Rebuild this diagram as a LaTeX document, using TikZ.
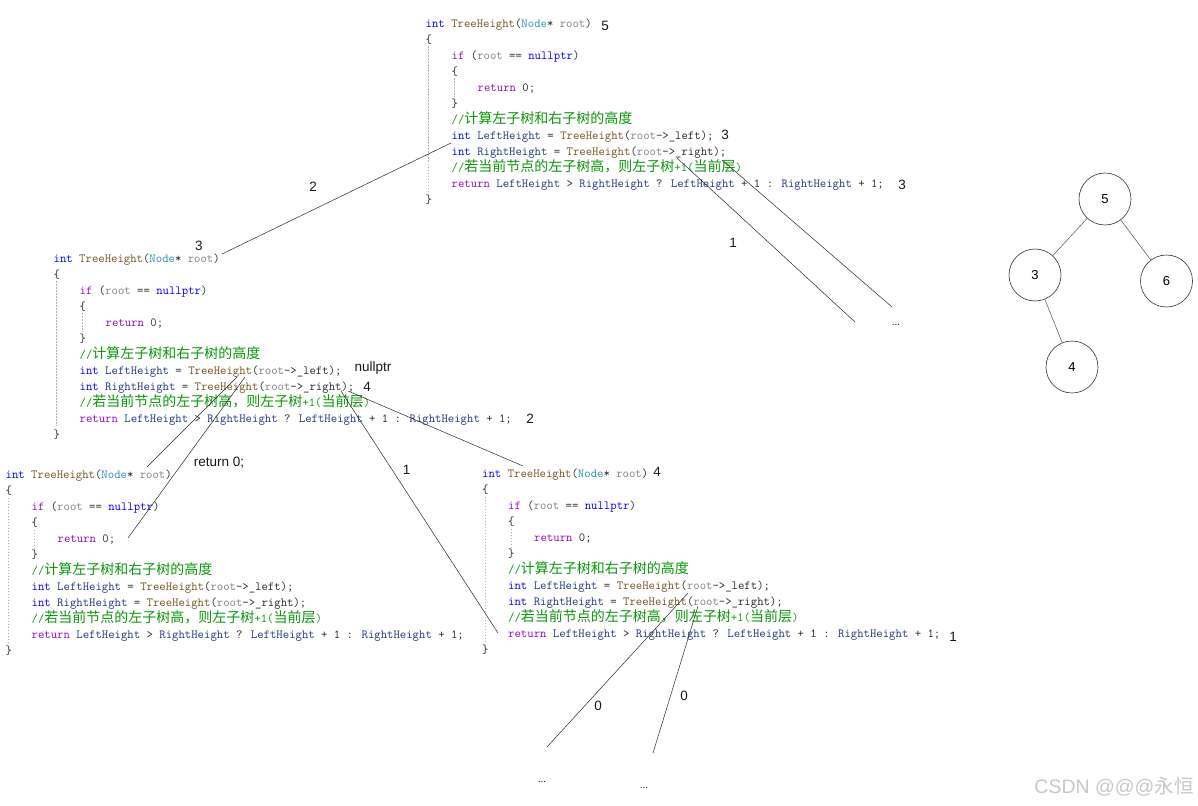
\documentclass[tikz,border=0pt]{standalone}
\usepackage{fontspec}
\setsansfont{Liberation Sans}
\newfontfamily\cjk{Noto Sans CJK SC}
\usetikzlibrary{calc}

\definecolor{kwblue}{HTML}{0000FF}
\definecolor{ctlpurple}{HTML}{8F08C4}
\definecolor{fnbrown}{HTML}{74531F}
\definecolor{typeteal}{HTML}{2B91AF}
\definecolor{pargray}{HTML}{808080}
\definecolor{locnavy}{HTML}{1F377F}
\definecolor{cmtgreen}{HTML}{0A960A}

% code colouring
\newcommand{\ckw}[1]{\textcolor{kwblue}{#1}}
\newcommand{\cctl}[1]{\textcolor{ctlpurple}{#1}}
\newcommand{\cfn}[1]{\textcolor{fnbrown}{#1}}
\newcommand{\cty}[1]{\textcolor{typeteal}{#1}}
\newcommand{\cpar}[1]{\textcolor{pargray}{#1}}
\newcommand{\cloc}[1]{\textcolor{locnavy}{#1}}
\newcommand{\ccmt}[1]{\textcolor{cmtgreen}{#1}}
\newcommand{\zh}[1]{{\cjk\fontsize{14}{16}\selectfont #1}}

\tikzset{
  codeline/.style={anchor=base west, inner sep=0pt, text=black!85,
    font=\ttfamily\fontsize{12.4}{16}\selectfont},
  guide/.style={draw=black!30, line width=0.6pt, dash pattern=on 1.5pt off 1.5pt},
  trace/.style={draw=black!85, line width=0.5pt},
  note/.style={inner sep=0pt, text=black!90, font=\sffamily\fontsize{13.5}{15}\selectfont},
  dotnote/.style={inner sep=0pt, font=\sffamily\fontsize{10}{12}\selectfont},
  treenode/.style={draw=black!80, line width=0.6pt, circle, minimum size=52pt,
    inner sep=0pt, font=\sffamily\fontsize{13}{15}\selectfont},
  treeedge/.style={draw=black!60, line width=0.6pt},
  wmark/.style={inner sep=0pt, text=black!22, font=\sffamily\fontsize{19.5}{21}\selectfont}
}

% one copy of TreeHeight: name, x of "int", baseline of first line
\newcommand{\heightcode}[3]{%
  \node[codeline] (#1-1)  at (#2, #3)        {\ckw{int} \cfn{TreeHeight}(\cty{Node}* \cpar{root})};
  \node[codeline] (#1-2)  at (#2, #3+16)     {\{};
  \node[codeline] (#1-3)  at (#2+26, #3+32)  {\cctl{if} (\cpar{root} == \ckw{nullptr})};
  \node[codeline] (#1-4)  at (#2+26, #3+48)  {\{};
  \node[codeline] (#1-5)  at (#2+52, #3+64)  {\cctl{return} 0;};
  \node[codeline] (#1-6)  at (#2+26, #3+80)  {\}};
  \node[codeline] (#1-7)  at (#2+26, #3+96)  {\ccmt{//\zh{计算左子树和右子树的高度}}};
  \node[codeline] (#1-8)  at (#2+26, #3+112) {\ckw{int} \cloc{LeftHeight} = \cfn{TreeHeight}(\cpar{root}->\_left);};
  \node[codeline] (#1-9)  at (#2+26, #3+128) {\ckw{int} \cloc{RightHeight} = \cfn{TreeHeight}(\cpar{root}->\_right);};
  \node[codeline] (#1-10) at (#2+26, #3+144) {\ccmt{//\zh{若当前节点的左子树高，则左子树}+1(\zh{当前层})}};
  \node[codeline] (#1-11) at (#2+26, #3+160) {\cctl{return} \cloc{LeftHeight} > \cloc{RightHeight} ? \cloc{LeftHeight} + 1 : \cloc{RightHeight} + 1;};
  \node[codeline] (#1-12) at (#2, #3+176)    {\}};
  \draw[guide] (#2+3, #3+19) -- (#2+3, #3+164);
  \draw[guide] (#2+29, #3+51) -- (#2+29, #3+70);
}

\begin{document}
\begin{tikzpicture}[x=1pt, y=-1pt]
    \useasboundingbox (0,0) rectangle (1198,805);

    % 1. The four copies of the function
    \heightcode{top}{425.5}{27.5}
    \heightcode{mid}{53.5}{262}
    \heightcode{bl}{5.5}{478.5}
    \heightcode{br}{482}{477.5}

    % 2. Ends of the call traces
    \coordinate (topLeft)   at (451,143);
    \coordinate (midHead)   at (222,254);
    \coordinate (topRightA) at (677,158);
    \coordinate (dotsA)     at (855,322);
    \coordinate (topRightB) at (722,160);
    \coordinate (dotsB)     at (892,307);
    \coordinate (midLeftA)  at (237,377);
    \coordinate (blHead)    at (147,467);
    \coordinate (midLeftB)  at (245,377);
    \coordinate (blRet)     at (128,538);
    \coordinate (midRightA) at (348,391);
    \coordinate (brHead)    at (523,466);
    \coordinate (midRightB) at (341,391);
    \coordinate (brRet)     at (498,633);
    \coordinate (brLeft)    at (688,593);
    \coordinate (endA)      at (547,747);
    \coordinate (brRight)   at (698,606);
    \coordinate (endB)      at (653,753);

    % 3. Traces
    \draw[trace] (topLeft) -- (midHead);
    \draw[trace] (topRightA) -- (dotsA);
    \draw[trace] (topRightB) -- (dotsB);
    \draw[trace] (midLeftA) -- (blHead);
    \draw[trace] (midLeftB) -- (blRet);
    \draw[trace] (midRightA) -- (brHead);
    \draw[trace] (midRightB) -- (brRet);
    \draw[trace] (brLeft) -- (endA);
    \draw[trace] (brRight) -- (endB);

    % 4. Returned heights and notes
    \node[note] (n5top)  at (605,26)    {5};
    \node[note] (n3left) at (725,135)   {3};
    \node[note] (n3ret)  at (902,185)   {3};
    \node[note] (n2call) at (313,187)   {2};
    \node[note] (n3mid)  at (199,246)   {3};
    \node[note] (n1top)  at (733,243)   {1};
    \node[note] (nnull)  at (373,368)   {nullptr};
    \node[note] (n4mid)  at (367,387)   {4};
    \node[note] (n2ret)  at (530,418.5) {2};
    \node[note] (nret0)  at (219,462.5) {return 0;};
    \node[note] (n1mid)  at (406.5,470) {1};
    \node[note] (n4br)   at (657,471.5) {4};
    \node[note] (n1br)   at (953,637)   {1};
    \node[note] (n0a)    at (598,706)   {0};
    \node[note] (n0b)    at (684,696)   {0};
    \node[dotnote] (dTop) at (896,325)  {...};
    \node[dotnote] (dA)   at (542,782)  {...};
    \node[dotnote] (dB)   at (644,788)  {...};

    % 5. The tree
    \node[treenode] (t5) at (1105,199)   {5};
    \node[treenode] (t3) at (1035,275)   {3};
    \node[treenode] (t6) at (1166.5,281) {6};
    \node[treenode] (t4) at (1072,367)   {4};
    \draw[treeedge] (t5) -- (t3);
    \draw[treeedge] (t5) -- (t6);
    \draw[treeedge] (t3) -- (t4);

    % 6. Watermark
    \node[wmark] (wm) at (1114,786.5) {CSDN @@@{\cjk 永恒}};
\end{tikzpicture}
\end{document}
